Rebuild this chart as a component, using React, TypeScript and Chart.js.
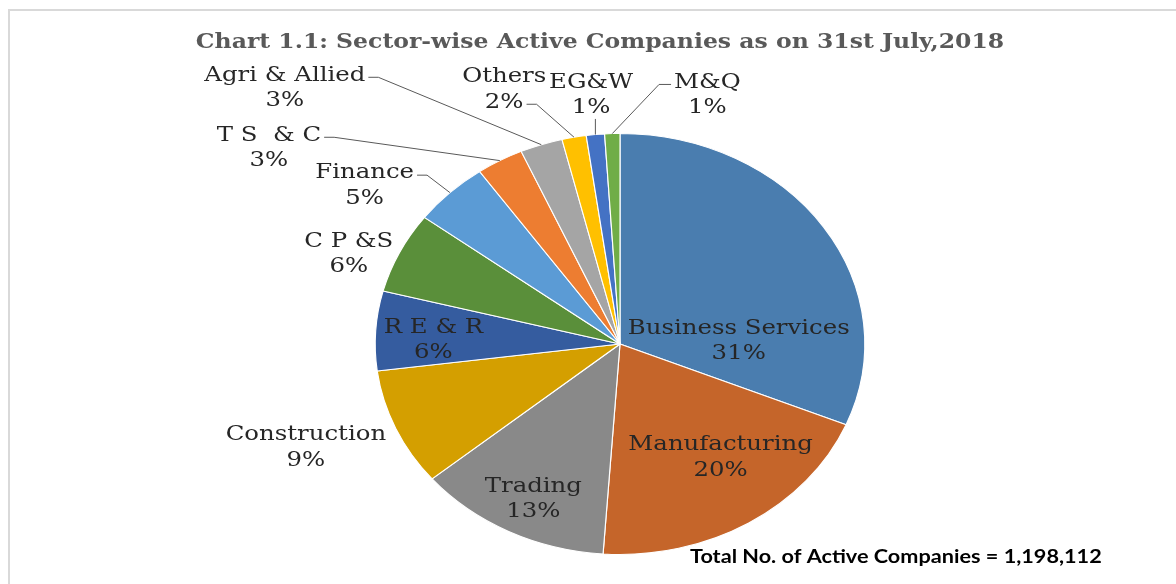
import { useEffect, useRef } from "react";
import { Chart, registerables } from "chart.js";

Chart.register(...registerables);

const sectors = [
  "Business Services",
  "Manufacturing",
  "Trading",
  "Construction",
  "R E & R",
  "C P &S",
  "Finance",
  "T S  & C",
  "Agri & Allied",
  "Others",
  "EG&W",
  "M&Q",
];
const shares = [31.2, 19.8, 12.8, 9.0, 6.1, 6.2, 5.0, 3.1, 2.8, 1.6, 1.2, 1.0];
const sliceColors = [
  "#4a7daf",
  "#c5652a",
  "#898989",
  "#d49f00",
  "#355c9f",
  "#5a8f3a",
  "#5b9bd5",
  "#ed7d31",
  "#a5a5a5",
  "#ffc000",
  "#4472c4",
  "#70ad47",
];
const titleText = "Chart 1.1: Sector-wise Active Companies as on 31st July,2018";
const totalNote = "Total No. of Active Companies = 1,198,112";

// label placement relative to pie centre, in units of (horizontal / vertical) radius
const labelPlacement = [
  { ux: 0.485, uy: -0.014, leader: "" },
  { ux: 0.411, uy: 0.54, leader: "" },
  { ux: -0.354, uy: 0.737, leader: "" },
  { ux: -1.283, uy: 0.493, leader: "" },
  { ux: -0.762, uy: -0.019, leader: "" },
  { ux: -1.108, uy: -0.427, leader: "" },
  { ux: -1.043, uy: -0.751, leader: "R0" },
  { ux: -1.434, uy: -0.931, leader: "R0" },
  { ux: -1.369, uy: -1.216, leader: "R0" },
  { ux: -0.473, uy: -1.209, leader: "R1" },
  { ux: -0.118, uy: -1.182, leader: "B" },
  { ux: 0.357, uy: -1.182, leader: "L0" },
];

const SX = 1.163; // horizontal stretch of the pie
const TX = 1.19; // horizontal stretch of the text
const LABEL_FONT = '20.5px "DejaVu Serif"';
const TITLE_FONT = 'bold 21px "DejaVu Serif"';
const NOTE_FONT = 'bold 19px "Lato"';

function drawText(
  ctx: CanvasRenderingContext2D,
  text: string,
  x: number,
  y: number,
  font: string,
  color: string,
  align: "left" | "center" | "right",
  stretch: number = TX
) {
  ctx.save();
  ctx.font = font;
  ctx.fillStyle = color;
  ctx.textAlign = align;
  ctx.textBaseline = "middle";
  ctx.translate(x, y);
  ctx.scale(stretch, 1);
  ctx.fillText(text, 0, 0);
  ctx.restore();
}

function textWidth(ctx: CanvasRenderingContext2D, text: string, font: string) {
  ctx.save();
  ctx.font = font;
  const w = ctx.measureText(text).width * TX;
  ctx.restore();
  return w;
}

const piePlugin = {
  id: "stretchedPie",
  beforeDatasetsDraw(chart: any) {
    const arc = chart.getDatasetMeta(0).data[0];
    const ctx = chart.ctx;
    ctx.save();
    ctx.translate(arc.x, arc.y);
    ctx.scale(SX, 1);
    ctx.translate(-arc.x, -arc.y);
  },
  afterDatasetsDraw(chart: any) {
    const ctx: CanvasRenderingContext2D = chart.ctx;
    ctx.restore();
    const meta = chart.getDatasetMeta(0);
    const arcs = meta.data;
    const cx = arcs[0].x;
    const cy = arcs[0].y;
    const r = arcs[0].outerRadius;
    const total = shares.reduce((a, b) => a + b, 0);
    const lineGap = 12.75;

    // title
    drawText(ctx, titleText, 600, 43, TITLE_FONT, "#595959", "center", 1.12);

    arcs.forEach((arc: any, i: number) => {
      const p = labelPlacement[i];
      const lx = cx + p.ux * r * SX;
      const ly = cy + p.uy * r;
      const name = sectors[i];
      const pct = Math.round((shares[i] / total) * 100) + "%";
      const y0 = ly - lineGap;
      const y1 = ly + lineGap;
      drawText(ctx, name, lx, y0, LABEL_FONT, "#262626", "center");
      drawText(ctx, pct, lx, y1, LABEL_FONT, "#262626", "center");

      if (p.leader) {
        const mid = (arc.startAngle + arc.endAngle) / 2;
        const ex = cx + Math.cos(mid) * r * SX;
        const ey = cy + Math.sin(mid) * r;
        ctx.save();
        ctx.strokeStyle = "#595959";
        ctx.lineWidth = 1;
        ctx.beginPath();
        if (p.leader[0] === "R") {
          const txt = p.leader[1] === "0" ? name : pct;
          const yy = (p.leader[1] === "0" ? y0 : y1) + 2;
          const sx = lx + textWidth(ctx, txt, LABEL_FONT) / 2 + 3;
          ctx.moveTo(sx, yy);
          ctx.lineTo(sx + 10, yy);
          ctx.lineTo(ex, ey);
        } else if (p.leader[0] === "L") {
          const yy = y0 + 2;
          const sx = lx - textWidth(ctx, name, LABEL_FONT) / 2 - 3;
          ctx.moveTo(sx, yy);
          ctx.lineTo(sx - 12, yy);
          ctx.lineTo(ex, ey);
        } else {
          ctx.moveTo(ex, y1 + 11);
          ctx.lineTo(ex, ey);
        }
        ctx.stroke();
        ctx.restore();
      }
    });

    drawText(ctx, totalNote, 690, 557, NOTE_FONT, "#000000", "left", 1.14);
  },
};

export default function App() {
  const canvasRef = useRef<HTMLCanvasElement | null>(null);

  useEffect(() => {
    if (!canvasRef.current) return;
    const chart = new Chart(canvasRef.current, {
      type: "pie",
      data: {
        labels: sectors,
        datasets: [
          {
            data: shares,
            backgroundColor: sliceColors,
            borderColor: "#ffffff",
            borderWidth: 1,
          },
        ],
      },
      options: {
        responsive: true,
        maintainAspectRatio: false,
        animation: false,
        events: [],
        layout: { padding: { top: 133, bottom: 29, left: 320, right: 256 } },
        plugins: {
          legend: { display: false },
          tooltip: { enabled: false },
          title: { display: false },
        },
      },
      plugins: [piePlugin],
    });
    return () => chart.destroy();
  }, []);

  return (
    <div
      style={{
        position: "fixed",
        left: 0,
        top: 0,
        width: 1176,
        height: 584,
        background: "#ffffff",
      }}
    >
      <div
        style={{
          position: "absolute",
          left: 8,
          top: 9,
          width: 1168,
          height: 575,
          borderTop: "2px solid #d9d9d9",
          borderLeft: "2px solid #d9d9d9",
          boxSizing: "border-box",
        }}
      />
      <div style={{ position: "absolute", left: 0, top: 0, width: 1176, height: 584 }}>
        <canvas ref={canvasRef} />
      </div>
    </div>
  );
}
